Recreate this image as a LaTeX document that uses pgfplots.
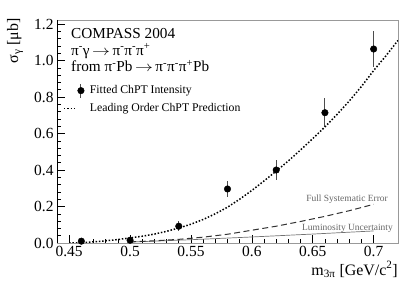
\documentclass[border=0pt]{standalone}
\usepackage{pgfplots}
\pgfplotsset{compat=1.18}
\usepackage{pgfplotstable}
\usepackage{fontspec}
\setmainfont{Liberation Serif}

\pgfplotstableread{
x y e
0.46 0.010 0.005
0.50 0.015 0.008
0.54 0.092 0.027
0.58 0.296 0.043
0.62 0.400 0.056
0.66 0.714 0.080
0.70 1.063 0.097
}\datatab

\pgfplotstableread{
x y
0.45 0.000
0.46 0.002
0.47 0.006
0.48 0.012
0.49 0.019
0.50 0.028
0.51 0.037
0.52 0.049
0.53 0.064
0.54 0.082
0.55 0.103
0.56 0.129
0.57 0.160
0.58 0.196
0.59 0.240
0.60 0.288
0.61 0.340
0.62 0.394
0.63 0.450
0.64 0.510
0.65 0.572
0.66 0.636
0.67 0.705
0.68 0.778
0.69 0.858
0.70 0.945
0.71 1.025
0.72 1.110
}\lotab

\pgfplotstableread{
x y
0.50 0.006
0.52 0.012
0.54 0.020
0.56 0.032
0.58 0.048
0.60 0.070
0.62 0.092
0.64 0.118
0.66 0.146
0.68 0.177
0.70 0.212
}\systab

\pgfplotstableread{
x y
0.50 0.005
0.55 0.018
0.60 0.033
0.65 0.049
0.70 0.066
}\lumtab

\newcommand{\arr}{\,\scalebox{1.25}[1]{$\rightarrow$}\,}

\begin{document}
\begin{tikzpicture}
\begin{axis}[
  scale only axis,
  width=341bp, height=223bp,
  xmin=0.44, xmax=0.72,
  ymin=0, ymax=1.222,
  xtick={0.45,0.5,0.55,0.6,0.65,0.7},
  xticklabels={0.45,0.5,0.55,0.6,0.65,0.7},
  ytick={0,0.2,0.4,0.6,0.8,1.0,1.2},
  minor x tick num=4,
  minor y tick num=4,
  tick pos=left,
  tick align=inside,
  major tick length=8bp,
  minor tick length=4bp,
  tick style={black, line width=0.6bp},
  axis line style={draw=black!40, line width=0.8bp},
  /pgf/number format/assume math mode=true,
  yticklabel style={/pgf/number format/fixed, /pgf/number format/fixed zerofill, /pgf/number format/precision=1},
  ticklabel style={font=\fontsize{15.5}{17}\selectfont},
  legend style={draw=none, fill=none, inner sep=0pt, at={(rel axis cs:0,1)}, anchor=north west, xshift=6bp, yshift=-63bp,
    font=\fontsize{11.8}{14}\selectfont, row sep=3.5bp, cells={anchor=west}},
  legend cell align=left,
]
\draw[black, line width=0.8bp] (rel axis cs:0,1) -- (rel axis cs:0,0) -- (rel axis cs:1,0);

\addplot[forget plot, black!55, line width=0.7bp] table[x=x,y=y] {\lumtab};
\addplot[forget plot, black!80, line width=1bp, dash pattern=on 6bp off 3.5bp] table[x=x,y=y] {\systab};

\addplot[only marks, mark=*, mark size=3.3bp, black,
  legend image code/.code={\path[draw=none,fill=none] (0bp,0bp) -- (24bp,0bp); \draw[black!70, line width=0.9bp] (17bp,-7bp) -- (17bp,7bp); \fill[black] (17bp,0bp) circle (3.3bp);},
  error bars/.cd, y dir=both, y explicit, error mark=none,
  error bar style={line width=0.9bp, color=black!70}]
  table[x=x,y=y,y error=e] {\datatab};
\addlegendentry{Fitted ChPT Intensity}

\addplot[black, line width=1.5bp, dash pattern=on 1.5bp off 1.8bp,
  legend image code/.code={\path[draw=none,fill=none] (0bp,0bp) -- (24bp,0bp); \draw[black, line width=1.5bp, dash pattern=on 1.5bp off 1.8bp] (0bp,0bp) -- (13bp,0bp);}]
  table[x=x,y=y] {\lotab};
\addlegendentry{Leading Order ChPT Prediction}

\node[anchor=base west, font=\fontsize{15.3}{17}\selectfont, inner sep=0pt] at (rel axis cs:0.041,0.919) {COMPASS 2004};
\node[anchor=base west, font=\fontsize{15.3}{17}\selectfont, inner sep=0pt] at (rel axis cs:0.041,0.843) {π\textsuperscript{-}γ\arr π\textsuperscript{-}π\textsuperscript{-}π\textsuperscript{+}};
\node[anchor=base west, font=\fontsize{15.3}{17}\selectfont, inner sep=0pt] at (rel axis cs:0.041,0.767) {from π\textsuperscript{-}Pb\arr π\textsuperscript{-}π\textsuperscript{-}π\textsuperscript{+}Pb};

\node[anchor=base east, font=\fontsize{9.5}{11}\selectfont, text=black!60, inner sep=0pt] at (axis cs:0.7118,0.225) {Full Systematic Error};
\node[anchor=base east, font=\fontsize{9.5}{11}\selectfont, text=black!60, inner sep=0pt] at (axis cs:0.7159,0.066) {Luminosity Uncertainty};
\end{axis}
\node[rotate=90, anchor=east, inner sep=0pt, font=\fontsize{16}{18}\selectfont] at ([xshift=-42bp,yshift=2bp]current axis.north west) {σ\textsubscript{γ} [μb]};
\node[anchor=base east, inner sep=0pt, font=\fontsize{16}{18}\selectfont] at ([yshift=-32bp]current axis.south east) {m\textsubscript{3π} [GeV/c\textsuperscript{2}]};
\pgfresetboundingbox
\path ([xshift=-57bp,yshift=-40bp]current axis.south west) rectangle ([xshift=21bp,yshift=20bp]current axis.north east);
\end{tikzpicture}
\end{document}
